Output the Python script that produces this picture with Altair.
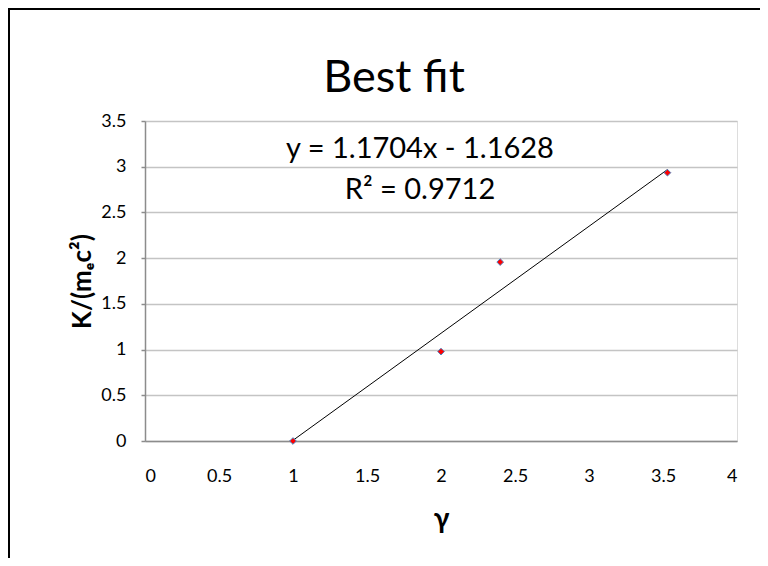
import altair as alt
import pandas as pd

# data
gamma = [1.0, 2.0, 2.4, 3.53]
k_over_mc2 = [0.0, 0.978, 1.957, 2.935]
slope = 1.1704
intercept = -1.1628
r_squared = 0.9712
x_ticks = [0, 0.5, 1, 1.5, 2, 2.5, 3, 3.5, 4]
y_ticks = [0, 0.5, 1, 1.5, 2, 2.5, 3, 3.5]
chart_title = ["Best fit"]

pts = pd.DataFrame({"gamma": gamma, "k": k_over_mc2})
trend = pd.DataFrame({
    "gamma": [min(gamma), max(gamma)],
    "k": [slope * min(gamma) + intercept, slope * max(gamma) + intercept],
})
eq_text = pd.DataFrame({"line": [
    f"y = {slope}x - {abs(intercept)}",
    f"R\u00b2 = {r_squared}",
], "row": [0, 1]})
title_df = pd.DataFrame({"t": chart_title})

FONT = "Lato, DejaVu Sans"

xs = alt.Scale(domain=[0, 4], nice=False, zero=True)
ys = alt.Scale(domain=[0, 3.5], nice=False, zero=True)

x_enc = alt.X("gamma:Q", scale=xs, axis=alt.Axis(
    values=x_ticks, format="~g", grid=False, ticks=False,
    labelPadding=26, labelFontSize=18, labelFont=FONT, labelColor="#000000",
    domainColor="#8c8c8c", domainWidth=1.5,
    title="\u03b3", titleFont=FONT, titleFontSize=28, titleFontWeight="bold",
    titleColor="#000000", titleX=296, titleY=86, titleBaseline="alphabetic",
    titleAlign="center"))
y_enc = alt.Y("k:Q", scale=ys, axis=alt.Axis(
    values=y_ticks, format="~g", grid=True, gridColor="#c4c4c4", gridWidth=1.5,
    ticks=True, tickSize=4, tickColor="#8c8c8c", tickWidth=1.5,
    labelPadding=15, labelFontSize=18, labelFont=FONT, labelColor="#000000",
    domainColor="#8c8c8c", domainWidth=1.5,
    title="K/(m\u2091c\u00b2)", titleFont=FONT, titleFontSize=26,
    titleFontWeight="bold", titleColor="#000000", titleX=-63, titleY=160,
    titleAngle=270, titleBaseline="middle", titleAlign="center"))

border = alt.Chart(pd.DataFrame({"a": [0]})).mark_rect(
    fill="transparent", stroke="#000000", strokeWidth=2
).encode(x=alt.value(-136), x2=alt.value(800), y=alt.value(-112), y2=alt.value(600))

title = alt.Chart(title_df).mark_text(
    font=FONT, fontSize=45, align="center", baseline="alphabetic", color="#000000"
).encode(text="t:N", x=alt.value(249), y=alt.value(-29))

line = alt.Chart(trend).mark_line(color="#000000", strokeWidth=1).encode(
    x=x_enc, y=y_enc)

points = alt.Chart(pts).mark_point(
    shape="diamond", filled=True, fill="#ff0000", stroke="#4f81bd",
    strokeWidth=1, size=45, opacity=1
).encode(x=alt.X("gamma:Q", scale=xs), y=alt.Y("k:Q", scale=ys))

eq1 = alt.Chart(eq_text).transform_filter("datum.row == 0").mark_text(
    font=FONT, fontSize=29, align="center", baseline="alphabetic", color="#000000"
).encode(text="line:N", x=alt.value(275), y=alt.value(37))
eq2 = alt.Chart(eq_text).transform_filter("datum.row == 1").mark_text(
    font=FONT, fontSize=29, align="center", baseline="alphabetic", color="#000000"
).encode(text="line:N", x=alt.value(275), y=alt.value(78))

chart = alt.layer(border, title, line, points, eq1, eq2).properties(
    width=592, height=320,
    autosize=alt.AutoSizeParams(type="none"),
    padding={"left": 137, "top": 113, "right": 23, "bottom": 117},
).configure_view(strokeWidth=0).configure(background="white")

chart.save("out.html", embed_options={"renderer": "svg", "actions": False})
